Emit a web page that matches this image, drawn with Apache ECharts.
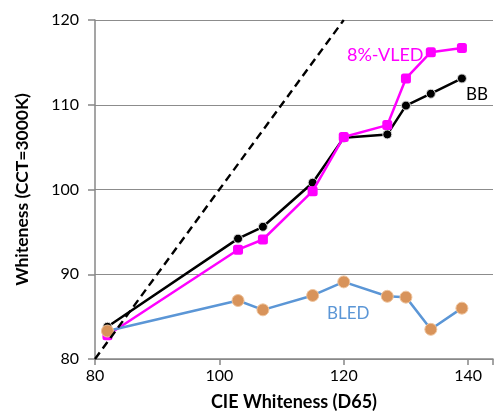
<!DOCTYPE html>
<html>
<head>
<meta charset="utf-8">
<script src="https://cdn.jsdelivr.net/npm/echarts@6/dist/echarts.min.js"></script>
<style>
  html, body { margin: 0; padding: 0; background: #fff; }
  #main { width: 496px; height: 416px; }
</style>
</head>
<body>
<div id="main"></div>
<script>
// CIE whiteness (D65) of the samples
var cieWhiteness = [82, 103, 107, 115, 120, 127, 130, 134, 139];
// whiteness under CCT=3000K
var bbValues = [83.8, 94.2, 95.6, 100.8, 106.1, 106.5, 109.9, 111.3, 113.1];
var vledValues = [82.8, 92.9, 94.1, 99.8, 106.2, 107.6, 113.1, 116.2, 116.7];
var bledValues = [83.3, 86.9, 85.8, 87.5, 89.1, 87.4, 87.3, 83.5, 86.0];
// 1:1 reference line
var refLine = [[80, 80], [120, 120]];
var xTicks = [80, 100, 120, 140];
var yTicks = [80, 90, 100, 110, 120];

function pairs(xs, ys) {
  var out = [];
  for (var i = 0; i < xs.length; i++) {
    out.push([xs[i], ys[i]]);
  }
  return out;
}

var chart = echarts.init(document.getElementById('main'));
var font = 'Lato, "Open Sans", sans-serif';

var option = {
  animation: false,
  grid: { left: 95, right: 0, top: 20, bottom: 56 },
  xAxis: {
    type: 'value',
    min: 80,
    max: 144,
    interval: 20,
    name: 'CIE Whiteness (D65)',
    nameLocation: 'middle',
    nameGap: 34,
    nameTextStyle: { fontFamily: font, fontWeight: 'bold', fontSize: 18, color: '#000' },
    axisLine: { lineStyle: { color: '#878787', width: 1.5 } },
    axisTick: { show: true, length: 6, lineStyle: { color: '#878787', width: 1.5 } },
    axisLabel: {
      fontFamily: font, fontSize: 16, color: '#000', margin: 9,
      formatter: function (v) { return xTicks.indexOf(v) >= 0 ? v : ''; }
    },
    splitLine: { show: false }
  },
  yAxis: {
    type: 'value',
    min: 80,
    max: 120,
    interval: 10,
    name: 'Whiteness (CCT=3000K)',
    nameLocation: 'middle',
    nameGap: 64,
    nameTextStyle: { fontFamily: font, fontWeight: 'bold', fontSize: 17.5, color: '#000' },
    axisLine: { show: true, lineStyle: { color: '#878787', width: 1.5 } },
    axisTick: { show: true, length: 7, lineStyle: { color: '#878787', width: 1.5 } },
    axisLabel: {
      fontFamily: font, fontSize: 16, color: '#000', margin: 16,
      formatter: function (v) { return yTicks.indexOf(v) >= 0 ? v : ''; }
    },
    splitLine: { show: true, lineStyle: { color: '#8c8c8c', width: 1.2 } }
  },
  series: [
    {
      name: 'BB',
      type: 'line',
      data: pairs(cieWhiteness, bbValues),
      symbol: 'circle',
      symbolSize: 9,
      lineStyle: { color: '#000', width: 2.5 },
      itemStyle: { color: '#000', borderColor: '#ddd', borderWidth: 1 },
      z: 3
    },
    {
      name: '8%-VLED',
      type: 'line',
      data: pairs(cieWhiteness, vledValues),
      symbol: 'roundRect',
      symbolSize: 10,
      lineStyle: { color: '#ff00ff', width: 2.5 },
      itemStyle: { color: '#ff00ff' },
      z: 4
    },
    {
      name: 'BLED',
      type: 'line',
      data: pairs(cieWhiteness, bledValues),
      symbol: 'circle',
      symbolSize: 12,
      lineStyle: { color: '#5b96d6', width: 2.5 },
      itemStyle: { color: '#d8935a', borderColor: '#eec39c', borderWidth: 1 },
      z: 5
    },
    {
      name: 'ref',
      type: 'line',
      data: refLine,
      symbol: 'none',
      lineStyle: { color: '#000', width: 2.4, type: [8, 5] },
      z: 6
    }
  ],
  graphic: [
    { type: 'text', left: 347, top: 46, style: { text: '8%-VLED', fill: '#ff00ff', font: '18px ' + font } },
    { type: 'text', left: 466, top: 86, style: { text: 'BB', fill: '#000', font: '17px ' + font } },
    { type: 'text', left: 327, top: 305, style: { text: 'BLED', fill: '#5b96d6', font: '17px ' + font } }
  ]
};

chart.setOption(option);
</script>
</body>
</html>
